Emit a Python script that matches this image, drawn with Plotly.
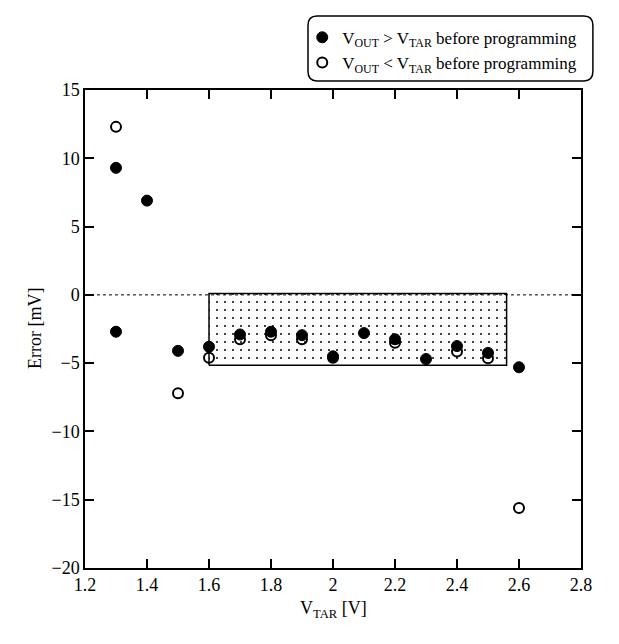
import plotly.graph_objects as go

# Data
vtar_filled = [1.3, 1.3, 1.4, 1.5, 1.6, 1.7, 1.8, 1.9, 2.0, 2.1, 2.2, 2.3, 2.4, 2.5, 2.6]
err_filled = [9.3, -2.7, 6.9, -4.1, -3.8, -2.9, -2.7, -2.95, -4.5, -2.8, -3.25, -4.7, -3.75, -4.25, -5.3]

vtar_open = [1.3, 1.5, 1.6, 1.7, 1.8, 1.9, 2.0, 2.2, 2.4, 2.5, 2.6]
err_open = [12.3, -7.2, -4.6, -3.25, -2.95, -3.25, -4.6, -3.5, -4.15, -4.65, -15.6]

box_x = [1.6, 2.56]
box_y = [-5.15, 0.1]

x_tick_step = 0.2
y_tick_step = 5

FONT = "Liberation Serif"
X_RANGE = [1.2, 2.8]
Y_RANGE = [-20, 15]
CLEAR = "rgba(0,0,0,0)"

fig = go.Figure()

# Shaded region
fig.add_trace(go.Scatter(
    x=[box_x[0], box_x[1], box_x[1], box_x[0], box_x[0]],
    y=[box_y[0], box_y[0], box_y[1], box_y[1], box_y[0]],
    mode="lines", fill="toself",
    line=dict(color="black", width=1.5),
    fillcolor="white",
    fillpattern=dict(shape=".", size=8, solidity=0.05, fgcolor="black", bgcolor="white"),
    showlegend=False, hoverinfo="skip",
))

# zero line
fig.add_trace(go.Scatter(
    x=X_RANGE, y=[0, 0], mode="lines",
    line=dict(color="black", width=1, dash="dot"),
    showlegend=False, hoverinfo="skip",
))

fig.add_trace(go.Scatter(
    x=vtar_filled, y=err_filled, mode="markers",
    marker=dict(symbol="circle", size=11, color="black", line=dict(color="black", width=1)),
    name="V<sub>OUT</sub> > V<sub>TAR</sub> before programming",
))
fig.add_trace(go.Scatter(
    x=vtar_open, y=err_open, mode="markers",
    marker=dict(symbol="circle-open", size=10, color="black", line=dict(color="black", width=2)),
    name="V<sub>OUT</sub> < V<sub>TAR</sub> before programming",
))

fig.update_xaxes(range=X_RANGE, dtick=x_tick_step, showline=True, linecolor="black", linewidth=1.5,
    mirror="ticks", ticks="inside", ticklen=9, tickwidth=2, tickcolor="black",
    tickfont=dict(family=FONT, size=18, color="black"), gridcolor=CLEAR, zerolinecolor=CLEAR)
fig.update_yaxes(range=Y_RANGE, dtick=y_tick_step, showline=True, linecolor="black", linewidth=1.5,
    mirror="ticks", ticks="inside", ticklen=9, tickwidth=2, tickcolor="black",
    tickfont=dict(family=FONT, size=18, color="black"), gridcolor=CLEAR, zerolinecolor=CLEAR)

# axis titles as annotations
fig.add_annotation(text="V<sub>TAR</sub> [V]", xref="paper", yref="paper", x=0.5, y=-0.115,
                   showarrow=False, font=dict(family=FONT, size=18, color="black"))
fig.add_annotation(text="Error [mV]", xref="paper", yref="paper", x=-0.125, y=0.5, textangle=-90,
                   showarrow=False, font=dict(family=FONT, size=18, color="black"))

# rounded legend box (paper coords)
x0, x1, y0, y1 = 0.4496, 1.024, 1.019, 1.155
rx, ry = 0.018, 0.02
fig.add_shape(
    type="path", xref="paper", yref="paper",
    path=(f"M {x0+rx},{y1} L {x1-rx},{y1} Q {x1},{y1} {x1},{y1-ry} "
          f"L {x1},{y0+ry} Q {x1},{y0} {x1-rx},{y0} L {x0+rx},{y0} "
          f"Q {x0},{y0} {x0},{y0+ry} L {x0},{y1-ry} Q {x0},{y1} {x0+rx},{y1} Z"),
    line=dict(color="black", width=1.5), fillcolor=CLEAR, layer="above",
)

fig.update_layout(
    template="none",
    width=611, height=636,
    margin=dict(l=77, r=38, t=76, b=76),
    plot_bgcolor="white",
    legend=dict(
        x=0.438, y=1.147, xanchor="left", yanchor="top",
        bgcolor=CLEAR, borderwidth=0,
        font=dict(family=FONT, size=17, color="black"),
        itemwidth=30, tracegroupgap=0,
    ),
)

fig.write_html("out.html")
